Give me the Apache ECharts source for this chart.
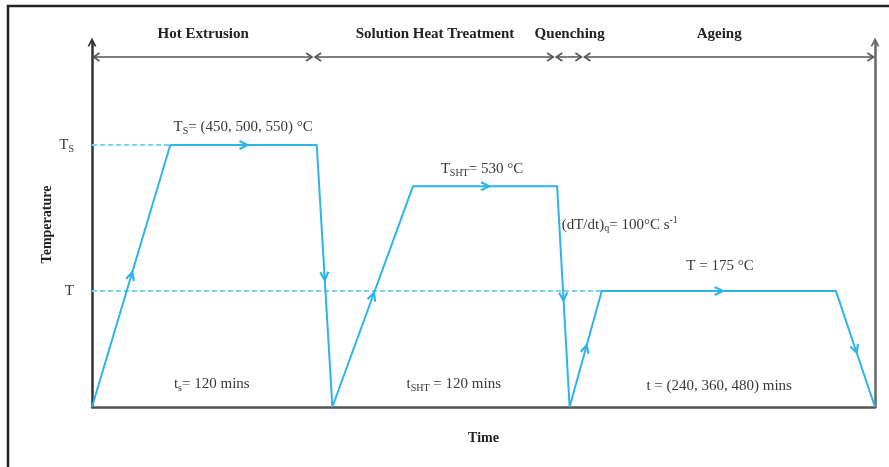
<!DOCTYPE html>
<html><head><meta charset="utf-8">
<script src="https://cdn.jsdelivr.net/npm/echarts@6/dist/echarts.min.js"></script>
<style>html,body{margin:0;padding:0;background:#fff}#c{width:889px;height:467px}</style>
</head><body><div id="c"></div>
<script>
// Schematic units: time 0–100, temperature 0–100 (arbitrary)
const timePts = [0, 10, 28.7, 30.7, 41, 59.4, 61, 65.1, 95, 100];
const tempPts = [0, 71.8, 71.8, 0, 60.5, 60.5, 0, 31.8, 31.8, 0];
const phaseNames = ['Hot Extrusion', 'Solution Heat Treatment', 'Quenching', 'Ageing'];
const phaseBounds = [0, 28.3, 59.1, 62.7, 100];
const phaseLabelAt = [14.2, 43.8, 61.0, 80.1];
const bracketLevel = 95.9;
const yTickValues = [71.8, 31.8];
const yTickLabels = ['{n|T}{sub|S}', '{n|T}'];
const noteTexts = [
  '{n|T}{sub|S}{n|= (450, 500, 550) °C}',
  '{n|T}{sub|SHT}{n|= 530 °C}',
  '{n|(dT/dt)}{sub|q}{n|= 100°C s}{sup|-1}',
  '{n|T = 175 °C}',
  '{n|t}{sub|s}{n|= 120 mins}',
  '{n|t}{sub|SHT}{n| = 120 mins}',
  '{n|t = (240, 360, 480) mins}'
];
const noteX = [19.3, 49.8, 67.4, 80.2, 15.3, 46.2, 80.1];
const noteY = [76.7, 65.2, 49.9, 38.6, 6.3, 6.3, 5.8];

const FONT = "'Liberation Serif','Times New Roman',serif";
const BLUE = '#2db4ea';
const DASH = '#7fd0f0';
const AX = '#555';
const TXT = '#383838';
const rich = {
  n: {fontFamily: FONT, fontSize: 15, lineHeight: 18, color: TXT},
  sub: {fontFamily: FONT, fontSize: 10, lineHeight: 8, verticalAlign: 'bottom', color: TXT},
  sup: {fontFamily: FONT, fontSize: 10, lineHeight: 10, verticalAlign: 'top', color: TXT}
};
const axisArrow = 'path://M5,0 L10,10 L8,10 L5,4.5 L2,10 L0,10 Z';

function chevron(tip, d, L, W, color, lw) {
  const nx = -d[1], ny = d[0];
  return {type: 'polyline', shape: {points: [
    [tip[0] - L * d[0] + W * nx, tip[1] - L * d[1] + W * ny], tip,
    [tip[0] - L * d[0] - W * nx, tip[1] - L * d[1] - W * ny]]},
    style: {stroke: color, lineWidth: lw, fill: null}};
}

const chart = echarts.init(document.getElementById('c'));
const profile = timePts.map((t, i) => [t, tempPts[i]]);
const segs = timePts.slice(0, -1).map((t, i) => [(t + timePts[i + 1]) / 2, (tempPts[i] + tempPts[i + 1]) / 2]);

chart.setOption({
  animation: false,
  graphic: [{type: 'rect', shape: {x: 8, y: 6, width: 900, height: 500}, style: {fill: 'none', stroke: '#222', lineWidth: 2.5}}],
  grid: {left: 92, right: 14, top: 42, bottom: 60},
  xAxis: {type: 'value', min: 0, max: 100, name: 'Time', nameLocation: 'middle', nameGap: 24, nameMoveOverlap: false,
    nameTextStyle: {fontFamily: FONT, fontWeight: 'bold', fontSize: 14, color: '#222'},
    axisLine: {show: true, onZero: false, lineStyle: {color: AX, width: 2.5}},
    axisTick: {show: false}, axisLabel: {show: false}, splitLine: {show: false}},
  yAxis: [{type: 'value', min: 0, max: 100, position: 'left', name: 'Temperature', nameLocation: 'middle', nameGap: 38,
    nameMoveOverlap: false,
    nameTextStyle: {fontFamily: FONT, fontWeight: 'bold', fontSize: 14, color: '#222'},
    axisLine: {show: true, symbol: ['none', axisArrow], symbolSize: [9, 12], lineStyle: {color: '#333', width: 2.5}},
    axisTick: {show: false}, splitLine: {show: false},
    axisLabel: {show: true, customValues: yTickValues, margin: 18, rich: rich,
      formatter: v => { const i = yTickValues.findIndex(x => Math.abs(x - v) < 0.01); return i >= 0 ? yTickLabels[i] : ''; }}},
   {type: 'value', min: 0, max: 100, position: 'right',
    axisLine: {show: true, symbol: ['none', axisArrow], symbolSize: [9, 12], lineStyle: {color: '#666', width: 2.5}},
    axisTick: {show: false}, axisLabel: {show: false}, splitLine: {show: false}}],
  series: [
    {type: 'line', data: [[timePts[0], tempPts[1]], [timePts[1], tempPts[1]]], symbol: 'none', silent: true,
      lineStyle: {color: DASH, width: 2, type: [5, 3]}, z: 2},
    {type: 'line', data: [[timePts[0], tempPts[7]], [timePts[7], tempPts[7]]], symbol: 'none', silent: true,
      lineStyle: {color: DASH, width: 2, type: [5, 3]}, z: 2},
    {type: 'line', data: profile, symbol: 'none', silent: true, lineStyle: {color: BLUE, width: 2}, z: 3},
    {type: 'custom', data: segs, silent: true, z: 4,
      renderItem: (params, api) => {
        const i = params.dataIndex;
        const p0 = api.coord([timePts[i], tempPts[i]]), p1 = api.coord([timePts[i + 1], tempPts[i + 1]]);
        const len = Math.hypot(p1[0] - p0[0], p1[1] - p0[1]);
        const d = [(p1[0] - p0[0]) / len, (p1[1] - p0[1]) / len];
        const tip = [(p0[0] + p1[0]) / 2 + 4 * d[0], (p0[1] + p1[1]) / 2 + 4 * d[1]];
        return chevron(tip, d, 8, 4, BLUE, 2.2);
      }},
    {type: 'custom', data: phaseNames.map((n, i) => [phaseBounds[i], phaseBounds[i + 1]]), silent: true, z: 4,
      renderItem: (params, api) => {
        const i = params.dataIndex;
        const a = api.coord([phaseBounds[i], bracketLevel]), b = api.coord([phaseBounds[i + 1], bracketLevel]);
        const c = api.coord([phaseLabelAt[i], bracketLevel]);
        const ta = [a[0] + 1.5, a[1]], tb = [b[0] - 1.5, b[1]];
        return {type: 'group', children: [
          {type: 'line', shape: {x1: ta[0], y1: ta[1], x2: tb[0], y2: tb[1]}, style: {stroke: AX, lineWidth: 1.5}},
          chevron(ta, [-1, 0], 6, 4, AX, 1.6),
          chevron(tb, [1, 0], 6, 4, AX, 1.6),
          {type: 'text', x: c[0], y: c[1] - 23, style: {text: phaseNames[i], align: 'center', verticalAlign: 'middle',
            fontFamily: FONT, fontWeight: 'bold', fontSize: 15, fill: '#222'}}
        ]};
      }},
    {type: 'custom', data: noteX.map((x, i) => [x, noteY[i]]), silent: true, z: 5,
      renderItem: (params, api) => {
        const i = params.dataIndex;
        const p = api.coord([noteX[i], noteY[i]]);
        return {type: 'text', x: p[0], y: p[1], style: {text: noteTexts[i], rich: rich, align: 'center', verticalAlign: 'middle',
          fontFamily: FONT, fontSize: 15, fill: TXT}};
      }}
  ]
});
</script></body></html>
